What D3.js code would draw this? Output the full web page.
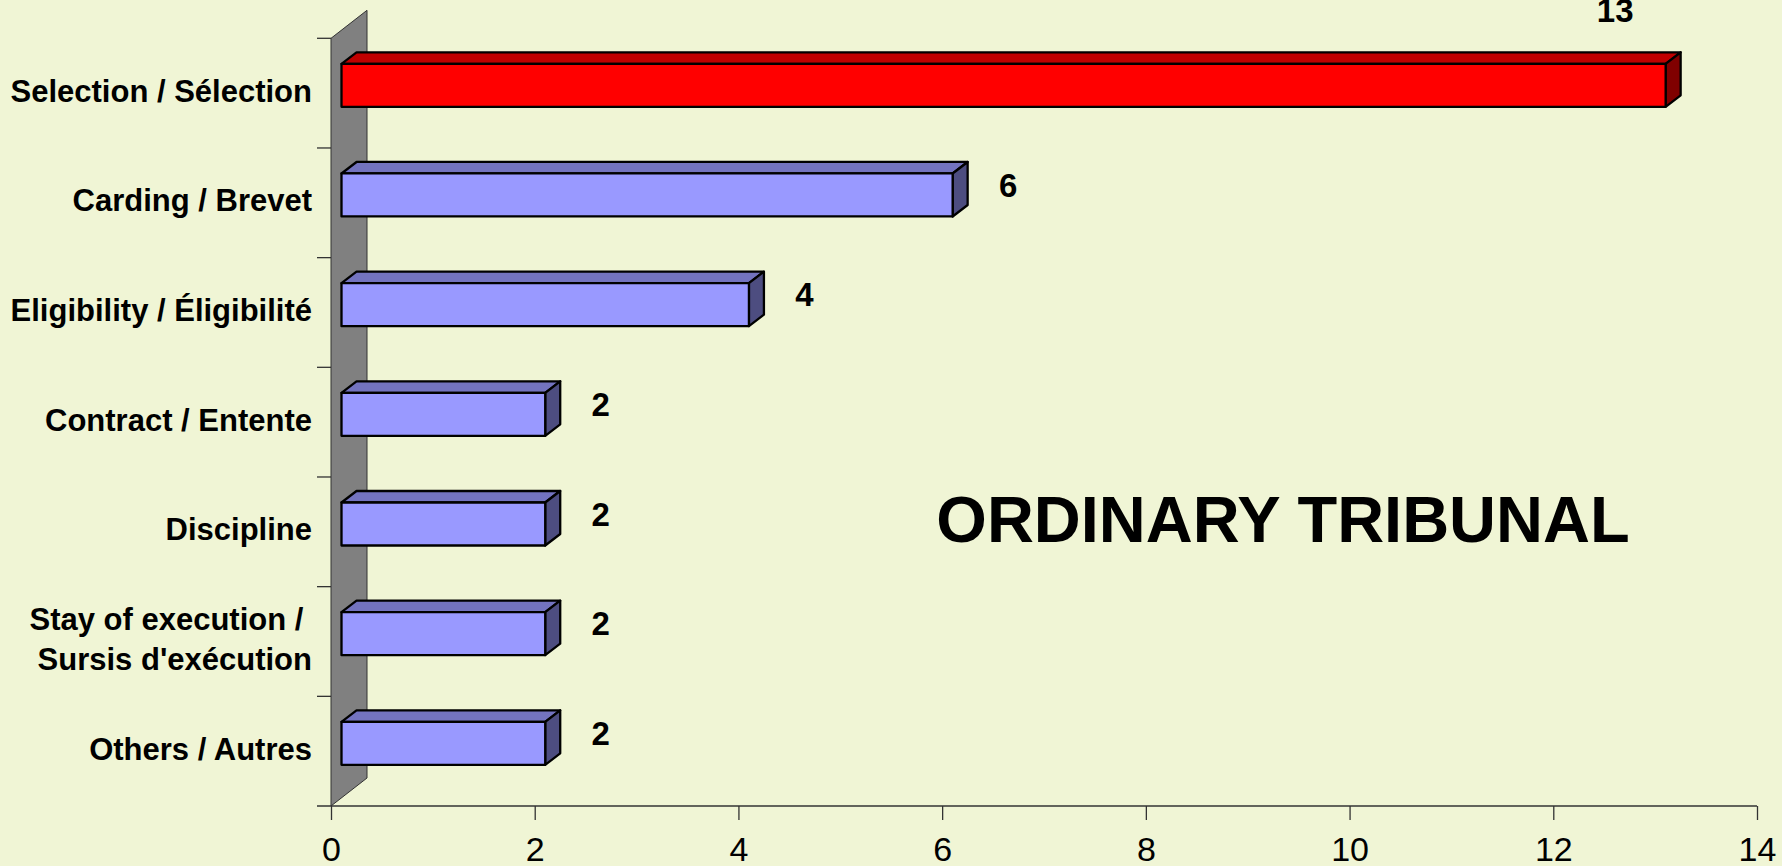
<!DOCTYPE html>
<html>
<head>
<meta charset="utf-8">
<script src="https://cdn.jsdelivr.net/npm/d3@7"></script>
<style>
  body { margin: 0; background: #F0F5D5; overflow: hidden; }
  svg { display: block; font-family: "Liberation Sans", Arial, sans-serif; }
</style>
</head>
<body>
<svg id="chart" width="1782" height="866"></svg>
<script>
// data
let categories = ["Selection / Sélection", "Carding / Brevet", "Eligibility / Éligibilité",
    "Contract / Entente", "Discipline", "Stay of execution / Sursis d'exécution", "Others / Autres"];
let values = [13, 6, 4, 2, 2, 2, 2];
let xTicks = [0, 2, 4, 6, 8, 10, 12, 14];
let chartTitle = "ORDINARY TRIBUNAL";

/** Class drawing the 3d-looking horizontal bar chart. */
class BarChart {
    constructor() {
        this.svg = d3.select("#chart");
        this.x = d3.scaleLinear().domain([0, 14]).range([331, 1757]);
        this.y = d3.scaleBand().domain(categories).range([38.3, 806]);
        this.depth = [15, -11.5];  // bar depth offset
        this.wall = [36, -28];     // back wall depth offset
    }

    drawWall() {
        let x0 = this.x(0), top = this.y.range()[0], bottom = this.y.range()[1];
        let pts = [[x0, top], [x0 + this.wall[0], top + this.wall[1]],
            [x0 + this.wall[0], bottom + this.wall[1]], [x0, bottom]];
        this.svg.append("polygon")
            .attr("points", pts.map(p => p.join(",")).join(" "))
            .attr("fill", "#808080")
            .attr("stroke", "#333")
            .attr("stroke-width", 1);
    }

    drawAxes() {
        let svg = this.svg;
        let x = this.x, y = this.y;
        let bottom = y.range()[1];

        let xAxis = svg.append("g")
            .attr("transform", "translate(0," + bottom + ")")
            .call(d3.axisBottom(x).tickValues(xTicks).tickSize(14).tickPadding(17).tickSizeOuter(0));
        xAxis.select(".domain").remove();
        xAxis.append("line")
            .attr("x1", x(0) - 14).attr("x2", x(14))
            .attr("stroke", "#333").attr("stroke-width", 1.3);
        xAxis.selectAll(".tick line").attr("stroke", "#333").attr("stroke-width", 1.3);
        xAxis.selectAll(".tick text")
            .attr("font-size", 34)
            .attr("font-family", "Liberation Sans, Arial, sans-serif")
            .attr("fill", "#000");

        // category tick marks at band boundaries
        let bounds = categories.map(c => y(c));
        svg.selectAll(".ytick")
            .data(bounds)
            .enter().append("line")
            .attr("class", "ytick")
            .attr("x1", x(0) - 14).attr("x2", x(0))
            .attr("y1", d => d).attr("y2", d => d)
            .attr("stroke", "#333").attr("stroke-width", 1.3);

        // category labels, long one split on two lines
        let labels = svg.selectAll(".cat")
            .data(categories)
            .enter().append("text")
            .attr("class", "cat")
            .attr("text-anchor", "end")
            .attr("font-size", 31)
            .attr("font-weight", "bold")
            .attr("fill", "#000");
        labels.each(function(d) {
            let t = d3.select(this);
            let cy = y(d) + y.bandwidth() / 2;
            let lines = d.length > 30 ? [d.slice(0, d.indexOf("/") + 1) + " ", d.slice(d.indexOf("/") + 2)] : [d];
            lines.forEach((line, i) => {
                t.append("tspan")
                    .attr("x", 312)
                    .attr("y", cy + 8.5 + (i - (lines.length - 1) / 2) * 40.7)
                    .style("white-space", "pre")
                    .text(line);
            });
        });
    }

    drawBars() {
        let svg = this.svg, x = this.x, y = this.y;
        let [dx, dy] = this.depth;
        let shift = 10.5;
        let barH = 43;

        let bars = svg.selectAll(".bar")
            .data(categories.map((c, i) => ({cat: c, value: values[i], hot: i === 0})))
            .enter().append("g")
            .attr("class", "bar");

        bars.each(function(d) {
            let g = d3.select(this);
            let x0 = x(0) + shift, x1 = x(d.value) + shift;
            let y0 = y(d.cat) + 25.5, y1 = y0 + barH;
            let front = d.hot ? "#FF0000" : "#9999FF";
            let top = d.hot ? "#C00000" : "#7373BF";
            let side = d.hot ? "#800000" : "#4D4D80";
            let poly = (pts, fill) => g.append("polygon")
                .attr("points", pts.map(p => p.join(",")).join(" "))
                .attr("fill", fill)
                .attr("stroke", "#000")
                .attr("stroke-width", 2.3)
                .attr("stroke-linejoin", "round");
            poly([[x0, y0], [x0 + dx, y0 + dy], [x1 + dx, y0 + dy], [x1, y0]], top);
            poly([[x1, y0], [x1 + dx, y0 + dy], [x1 + dx, y1 + dy], [x1, y1]], side);
            poly([[x0, y0], [x1, y0], [x1, y1], [x0, y1]], front);
        });

        // value labels; the biggest one sits above its bar end
        let maxV = d3.max(values);
        svg.selectAll(".val")
            .data(categories.map((c, i) => ({cat: c, value: values[i]})))
            .enter().append("text")
            .attr("class", "val")
            .attr("text-anchor", "middle")
            .attr("font-size", 33)
            .attr("font-weight", "bold")
            .attr("fill", "#000")
            .attr("x", d => d.value === maxV ? x(d.value) - 40 : x(d.value) + 66)
            .attr("y", d => d.value === maxV ? y(d.cat) + 25.5 + dy - 30 : y(d.cat) + y.bandwidth() / 2 - 6)
            .text(d => d.value);
    }

    drawTitle() {
        this.svg.append("text")
            .attr("x", 1283)
            .attr("y", 542)
            .attr("text-anchor", "middle")
            .attr("font-size", 65)
            .attr("font-weight", "bold")
            .attr("fill", "#000")
            .text(chartTitle);
    }
}

let chart = new BarChart();
chart.drawWall();
chart.drawAxes();
chart.drawBars();
chart.drawTitle();
</script>
</body>
</html>
